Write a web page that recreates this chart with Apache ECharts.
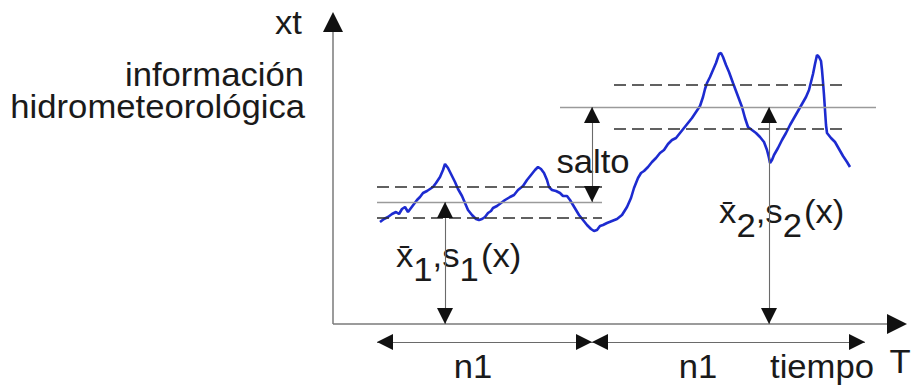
<!DOCTYPE html>
<html>
<head>
<meta charset="utf-8">
<script src="https://cdn.jsdelivr.net/npm/echarts@6/dist/echarts.min.js"></script>
<style>
html, body { margin: 0; padding: 0; background: #fff; }
#main { width: 913px; height: 387px; }
</style>
</head>
<body>
<div id="main"></div>
<script>
// serie xt (información hidrometeorológica) frente al tiempo T
var tiempo = [47, 51, 55, 59, 63, 66, 69, 72, 75, 78, 81, 84, 87, 90, 94, 97, 100, 103, 107, 110,
    112, 115, 118, 122, 125, 129, 132, 135, 139, 143, 146, 149, 152, 155, 158, 160, 164, 168, 172, 177,
    181, 185, 190, 194, 198, 202, 205, 208, 211, 214, 216, 219, 223, 227, 230, 234, 237, 240, 243, 246,
    250, 254, 258, 261, 264, 267, 270, 274, 279, 284, 289, 294, 298, 301, 305, 308, 311, 315, 319, 323,
    327, 331, 335, 339, 343, 347, 351, 355, 359, 363, 367, 370, 372, 374, 377, 380, 383, 386, 388, 390,
    393, 396, 400, 403, 406, 409, 412, 415, 419, 423, 427, 431, 434, 436, 437, 439, 441, 445, 449, 453,
    457, 461, 465, 469, 473, 476, 478, 480, 482, 484, 486, 488, 489, 490, 491, 492, 493, 494, 498, 502,
    506, 510, 514, 517];
var xt = [102, 105, 107, 110, 112, 110, 115, 117, 112, 116, 120, 124, 127, 131, 133, 135, 137, 141, 147, 154,
    160, 156, 150, 142, 135, 128, 121, 114, 109, 105, 104, 105, 107, 111, 113, 116, 118, 121, 124, 127,
    129, 134, 138, 144, 149, 154, 157, 155, 151, 144, 137, 134, 133, 131, 128, 128, 124, 119, 114, 109,
    104, 99, 95, 93, 94, 98, 99, 101, 103, 105, 109, 117, 126, 136, 146, 151, 153, 157, 162, 166,
    171, 174, 180, 184, 186, 191, 196, 201, 206, 212, 218, 227, 235, 241, 247, 254, 261, 270, 271, 267,
    259, 252, 241, 233, 225, 217, 206, 197, 194, 191, 187, 182, 174, 166, 161, 164, 169, 176, 184, 191,
    199, 206, 213, 220, 227, 234, 242, 250, 260, 269, 267, 263, 254, 242, 229, 214, 199, 191, 186, 182,
    175, 168, 162, 157];

// tramo 1: media y desviación
var tramo1 = [44, 269];
var media1 = 122;
var desv1 = 15.5;
// tramo 2: media (línea larga) y desviación (discontinuas)
var tramo2Media = [227, 543];
var tramo2Desv = [281, 515];
var media2 = 217;
var desv2 = 22;

// flechas
var xSalto = 259;
var xFlecha1 = 112;
var xFlecha2 = 436;
var n1Bordes = [44, 259, 532];
var yN1 = -18;
var finEjeX = 574;
var finEjeY = 312;

var punta = 16;
var puntaEje = 20;
var TAM = 33;
var ESCALA = 1.05;
var FUENTE = '"Liberation Sans", Arial, Helvetica, sans-serif';

function par(a, b) {
    return [{coord: a}, {coord: b}];
}

// recorta los extremos para que la punta del triángulo quede en el extremo
function puntas(a, b, h, inicio, fin) {
    var dx = b[0] - a[0], dy = b[1] - a[1];
    var len = Math.sqrt(dx * dx + dy * dy);
    var ux = dx / len, uy = dy / len;
    var p1 = inicio ? [a[0] + ux * h / 2, a[1] + uy * h / 2] : a;
    var p2 = fin ? [b[0] - ux * h / 2, b[1] - uy * h / 2] : b;
    return [
        {coord: p1, symbol: inicio ? 'triangle' : 'none', symbolSize: h},
        {coord: p2, symbol: fin ? 'triangle' : 'none', symbolSize: h}
    ];
}

var curva = [];
for (var i = 0; i < tiempo.length; i++) {
    curva.push([tiempo[i], xt[i]]);
}

var lineasMedia = [
    par([tramo1[0], media1], [tramo1[1], media1]),
    par([tramo2Media[0], media2], [tramo2Media[1], media2])
];
var lineasDesv = [
    par([tramo1[0], media1 + desv1], [tramo1[1], media1 + desv1]),
    par([tramo1[0], media1 - desv1], [tramo1[1], media1 - desv1]),
    par([tramo2Desv[0], media2 + desv2], [tramo2Desv[1], media2 + desv2]),
    par([tramo2Desv[0], media2 - desv2], [tramo2Desv[1], media2 - desv2])
];
var ejes = [
    par([0, 0], [finEjeX - puntaEje / 2, 0]),
    par([0, 0], [0, finEjeY - puntaEje / 2])
];
var tallos = [
    par([xSalto, media2], [xSalto, media1]),
    par([xFlecha1, media1], [xFlecha1, 0]),
    par([xFlecha2, media2], [xFlecha2, 0]),
    par([n1Bordes[0], yN1], [n1Bordes[1], yN1]),
    par([n1Bordes[1], yN1], [n1Bordes[2], yN1])
];
var cabezas = [
    puntas([0, 0], [finEjeX, 0], puntaEje, false, true),
    puntas([0, 0], [0, finEjeY], puntaEje, false, true),
    puntas([xSalto, media2], [xSalto, media1], punta, true, true),
    puntas([xFlecha1, media1], [xFlecha1, 0], punta, true, true),
    puntas([xFlecha2, media2], [xFlecha2, 0], punta, true, true),
    puntas([n1Bordes[0], yN1], [n1Bordes[1], yN1], punta, true, true),
    puntas([n1Bordes[1], yN1], [n1Bordes[2], yN1], punta, true, true)
];

function capa(datos, estilo, simbolo) {
    return {
        type: 'line',
        data: [],
        silent: true,
        markLine: {
            silent: true,
            animation: false,
            symbol: simbolo || ['none', 'none'],
            label: {show: false},
            emphasis: {disabled: true},
            lineStyle: estilo,
            data: datos
        }
    };
}

function texto(str, x, y, align, extra) {
    var el = {
        type: 'text',
        x: x,
        y: y,
        scaleX: ESCALA,
        silent: true,
        style: {
            text: str,
            x: 0,
            y: 0,
            fill: '#1a1a1a',
            font: TAM + 'px ' + FUENTE,
            align: align,
            verticalAlign: 'middle',
            textAlign: align,
            textVerticalAlign: 'middle'
        }
    };
    if (extra) {
        for (var k in extra) el.style[k] = extra[k];
    }
    return el;
}

function etiquetaMedia(n, x, y, fondo) {
    var el = texto('{m|x\u0304}{s|' + n + '}{m|,s}{t|' + n + '}{m|(x)}', x, y, 'left', {
        verticalAlign: 'top',
        textVerticalAlign: 'top',
        rich: {
            m: {font: TAM + 'px ' + FUENTE, fill: '#1a1a1a', verticalAlign: 'top'},
            s: {font: TAM + 'px ' + FUENTE, fill: '#1a1a1a', verticalAlign: 'top', padding: [14, 0, 0, 0]},
            t: {font: TAM + 'px ' + FUENTE, fill: '#1a1a1a', verticalAlign: 'top', padding: [14, 2, 0, 0]}
        }
    });
    if (fondo) {
        el.style.backgroundColor = '#fff';
        el.style.padding = [2, 2, 2, 2];
    }
    return el;
}

var chart = echarts.init(document.getElementById('main'), null, {renderer: 'svg'});

chart.setOption({
    animation: false,
    backgroundColor: '#fff',
    grid: {left: 0, right: 0, top: 0, bottom: 0},
    xAxis: {type: 'value', min: -333, max: 580, show: false},
    yAxis: {type: 'value', min: -63, max: 324, show: false},
    series: [
        capa(lineasMedia, {color: '#9a9a9a', width: 1.3, type: 'solid'}),
        capa(lineasDesv, {color: '#2e2e2e', width: 1.6, type: [12, 6]}),
        capa(ejes, {color: '#7a7a7a', width: 1.5, type: 'solid'}),
        capa(tallos, {color: '#6a6a6a', width: 1.1, type: 'solid'}),
        {
            type: 'line',
            name: 'xt',
            data: curva,
            showSymbol: false,
            silent: true,
            lineStyle: {color: '#1d2bd0', width: 2.6},
            z: 3
        },
        capa(cabezas, {color: '#111', width: 0}, ['triangle', 'triangle'])
    ],
    graphic: [
        texto('xt', 302, 22, 'right'),
        texto('información', 304, 74, 'right'),
        texto('hidrometeorológica', 305, 106, 'right'),
        texto('salto', 593, 161, 'center', {backgroundColor: '#fff', padding: [4, 2, 2, 2]}),
        etiquetaMedia(1, 396, 239),
        etiquetaMedia(2, 717, 193, true),
        texto('n1', 473, 366, 'center'),
        texto('n1', 698, 366, 'center'),
        texto('tiempo', 822, 366, 'center'),
        texto('T', 900, 361, 'center')
    ]
});
</script>
</body>
</html>
